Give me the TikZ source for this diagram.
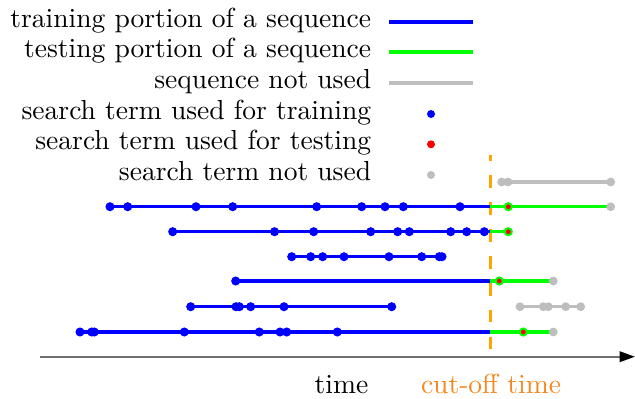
\documentclass[tikz,border=0pt]{standalone}
\usetikzlibrary{arrows.meta}
\definecolor{seqblue}{RGB}{0,0,255}
\definecolor{seqgreen}{RGB}{0,255,0}
\definecolor{seqgray}{RGB}{190,190,190}
\definecolor{seqred}{RGB}{255,0,0}
\definecolor{cutorange}{RGB}{255,165,0}
\definecolor{cuttext}{RGB}{245,135,30}
\definecolor{axisgray}{RGB}{112,112,112}
\begin{document}
\begin{tikzpicture}[x=0.363pt,y=-0.363pt,
  trainline/.style={draw=seqblue,line width=1.2pt},
  testline/.style={draw=seqgreen,line width=1.2pt},
  unusedline/.style={draw=seqgray,line width=1.2pt},
  legline/.style={line width=1.4pt},
  reddot/.style={fill=seqred,draw=seqgreen,line width=0.7pt},
  legtext/.style={anchor=base east,inner sep=0pt,font=\fontsize{10}{12}\selectfont},
  axislabel/.style={anchor=base,inner sep=0pt,font=\fontsize{10}{12}\selectfont}
]
\path[use as bounding box] (0,0) rectangle (635,398);

% legend
\foreach \t/\yy/\nm in {training portion of a sequence/21.7/l1, testing portion of a sequence/52.3/l2, sequence not used/82.7/l3, search term used for training/114/l4, search term used for testing/144.3/l5, search term not used/175/l6}
  \node[legtext] (\nm) at (371.7,\yy+5.5) {\t};
\coordinate (l1a) at (389,21.7); \coordinate (l1b) at (473,21.7);
\coordinate (l2a) at (389,52.3); \coordinate (l2b) at (473,52.3);
\coordinate (l3a) at (389,82.7); \coordinate (l3b) at (473,82.7);
\draw[legline,seqblue] (l1a) -- (l1b);
\draw[legline,seqgreen] (l2a) -- (l2b);
\draw[legline,seqgray] (l3a) -- (l3b);
\fill[seqblue] (431,114) circle[radius=1.45pt];
\fill[seqred] (431,144.3) circle[radius=1.45pt];
\fill[seqgray] (431,175) circle[radius=1.45pt];

% cut-off line
\coordinate (cuttop) at (490.5,155);
\coordinate (cutbot) at (490.5,358);
\draw[cutorange,line width=1.1pt,dash pattern=on 4.5pt off 5.3pt,dash phase=2.5pt] (cuttop) -- (cutbot);

% axis
\coordinate (ax0) at (40,356.7);
\coordinate (ax1) at (635,356.7);
\draw[axisgray,line width=0.8pt,-{Triangle[length=5.6pt,width=3.8pt,black]}] (ax0) -- (ax1);
\node[axislabel] (timelbl) at (341.5,393.3) {time};
\node[axislabel,text=cuttext] (cutlbl) at (491,393.3) {cut-off time};

% row 0 (not used)
\coordinate (r0a) at (501.7,182); \coordinate (r0b) at (610.7,182);
\draw[unusedline] (r0a) -- (r0b);
\foreach \x in {501.7,508,610.7} \fill[seqgray] (\x,182) circle[radius=1.6pt];

% row 1
\coordinate (r1a) at (110,206.7); \coordinate (r1c) at (490,206.7); \coordinate (r1b) at (610.7,206.7);
\draw[trainline] (r1a) -- (r1c);
\draw[testline] (r1c) -- (r1b);
\foreach \x in {110,127.7,196,232.7,316.7,361.7,385,403.3,460} \fill[seqblue] (\x,206.7) circle[radius=1.65pt];
\fill[seqgray] (r1b) circle[radius=1.6pt];
\filldraw[reddot] (508.3,206.7) circle[radius=1.3pt];

% row 2
\coordinate (r2a) at (172.7,231.7); \coordinate (r2c) at (490,231.7); \coordinate (r2b) at (508.3,231.7);
\draw[trainline] (r2a) -- (r2c);
\draw[testline] (r2c) -- (r2b);
\foreach \x in {172.7,274.5,313.7,370.7,397.7,409.3,450.7,466.7,484.3} \fill[seqblue] (\x,231.7) circle[radius=1.65pt];
\filldraw[reddot] (r2b) circle[radius=1.3pt];

% row 3
\coordinate (r3a) at (291.7,256.7); \coordinate (r3b) at (442,256.7);
\draw[trainline] (r3a) -- (r3b);
\foreach \x in {291.7,310.7,322.7,344,389,421.7,439.3,442} \fill[seqblue] (\x,256.7) circle[radius=1.65pt];

% row 4
\coordinate (r4a) at (235.7,281); \coordinate (r4c) at (490,281); \coordinate (r4b) at (553.3,281);
\draw[trainline] (r4a) -- (r4c);
\draw[testline] (r4c) -- (r4b);
\fill[seqblue] (r4a) circle[radius=1.65pt];
\fill[seqgray] (r4b) circle[radius=1.6pt];
\filldraw[reddot] (499.3,281) circle[radius=1.3pt];

% row 5
\coordinate (r5a) at (190.7,306.7); \coordinate (r5b) at (391.7,306.7);
\coordinate (r5c) at (520,306.7); \coordinate (r5d) at (580.7,306.7);
\draw[trainline] (r5a) -- (r5b);
\draw[unusedline] (r5c) -- (r5d);
\foreach \x in {190.7,236,239.3,250.7,284,391.7} \fill[seqblue] (\x,306.7) circle[radius=1.65pt];
\foreach \x in {520,543.3,548.3,565.7,580.7} \fill[seqgray] (\x,306.7) circle[radius=1.6pt];

% row 6
\coordinate (r6a) at (80,332); \coordinate (r6c) at (490,332); \coordinate (r6b) at (553.3,332);
\draw[trainline] (r6a) -- (r6c);
\draw[testline] (r6c) -- (r6b);
\foreach \x in {80,91.7,94.3,184.3,259.3,280,286.7,337.3} \fill[seqblue] (\x,332) circle[radius=1.65pt];
\fill[seqgray] (r6b) circle[radius=1.6pt];
\filldraw[reddot] (523.3,332) circle[radius=1.3pt];
\end{tikzpicture}
\end{document}
